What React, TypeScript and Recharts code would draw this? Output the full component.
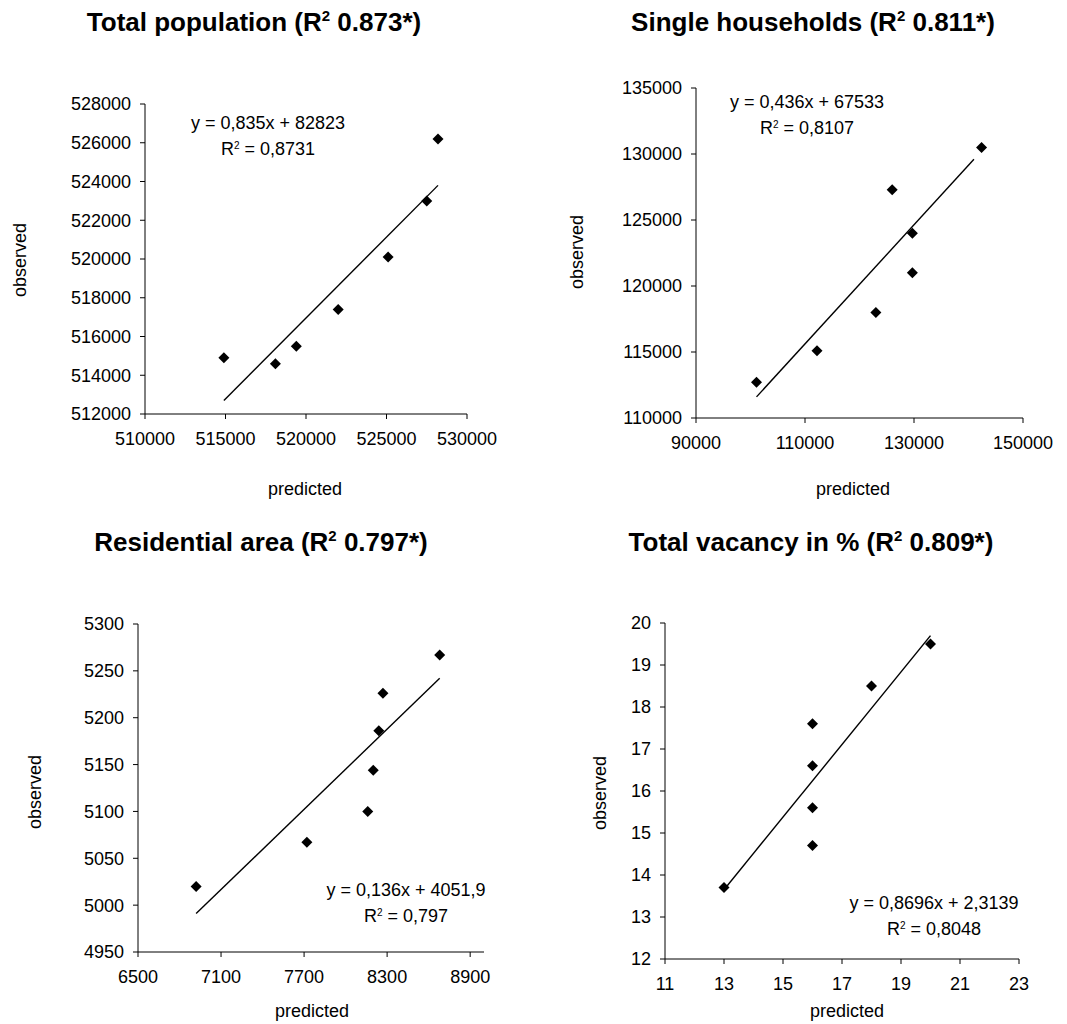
import React from "react";
import { ScatterChart, Scatter, XAxis, YAxis } from "recharts";

const FONT = "'Liberation Sans', Arial, Helvetica, sans-serif";

// Total population
const popPredicted = [514900, 518100, 519400, 522000, 525100, 527500, 528200];
const popObserved = [514900, 514600, 515500, 517400, 520100, 523000, 526200];
const popTrendX = [514900, 528200];
const popTrendY = [512700, 523800];
const popXTicks = [510000, 515000, 520000, 525000, 530000];
const popYTicks = [512000, 514000, 516000, 518000, 520000, 522000, 524000, 526000, 528000];

// Single households
const hhPredicted = [101100, 112200, 123000, 126000, 129700, 129700, 142400];
const hhObserved = [112700, 115100, 118000, 127300, 124000, 121000, 130500];
const hhTrendX = [101100, 141000];
const hhTrendY = [111600, 129600];
const hhXTicks = [90000, 110000, 130000, 150000];
const hhYTicks = [110000, 115000, 120000, 125000, 130000, 135000];

// Residential area
const areaPredicted = [6920, 7720, 8160, 8200, 8240, 8270, 8680];
const areaObserved = [5020, 5067, 5100, 5144, 5186, 5226, 5267];
const areaTrendX = [6920, 8680];
const areaTrendY = [4991, 5242];
const areaXTicks = [6500, 7100, 7700, 8300, 8900];
const areaYTicks = [4950, 5000, 5050, 5100, 5150, 5200, 5250, 5300];

// Total vacancy in %
const vacPredicted = [13, 16, 16, 16, 16, 18, 20];
const vacObserved = [13.7, 17.6, 16.6, 15.6, 14.7, 18.5, 19.5];
const vacTrendX = [13, 20];
const vacTrendY = [13.65, 19.7];
const vacXTicks = [11, 13, 15, 17, 19, 21, 23];
const vacYTicks = [12, 13, 14, 15, 16, 17, 18, 19, 20];

const Diamond = (props: any) => {
  const { cx, cy } = props;
  if (cx == null || cy == null) return <g />;
  const r = 5.5;
  return <path d={`M${cx},${cy - r}L${cx + r},${cy}L${cx},${cy + r}L${cx - r},${cy}Z`} fill="#000" />;
};

const tickStyle = { fill: "#000", fontSize: 18, fontFamily: FONT };

function Panel(p: any) {
  const W = 533;
  const H = 512;
  const xh = 40;
  const pts = p.predicted.map((x: number, i: number) => ({ x, y: p.observed[i] }));
  const trend = p.trendX.map((x: number, i: number) => ({ x, y: p.trendY[i] }));
  return (
    <div style={{ position: "absolute", left: p.left, top: p.top, width: W, height: H }}>
      <ScatterChart
        width={W}
        height={H}
        margin={{ top: p.plot.t - p.top, right: p.left + W - p.plot.r, bottom: p.top + H - p.plot.b - xh, left: 0 }}
      >
        <XAxis
          type="number"
          dataKey="x"
          domain={p.xDomain}
          ticks={p.xTicks}
          interval={0}
          height={xh}
          tickSize={5}
          tickMargin={13}
          axisLine={{ stroke: "#000" }}
          tickLine={{ stroke: "#000" }}
          tick={tickStyle}
          allowDataOverflow
        />
        <YAxis
          type="number"
          dataKey="y"
          domain={p.yDomain}
          ticks={p.yTicks}
          interval={0}
          width={p.plot.l - p.left}
          tickSize={5}
          tickMargin={9}
          axisLine={{ stroke: "#000" }}
          tickLine={{ stroke: "#000" }}
          tick={tickStyle}
          allowDataOverflow
        />
        <Scatter
          data={trend}
          line={{ stroke: "#000", strokeWidth: 1.4 }}
          lineType="joint"
          shape={() => <g />}
          isAnimationActive={false}
        />
        <Scatter data={pts} shape={Diamond} isAnimationActive={false} />
      </ScatterChart>
    </div>
  );
}

const Sup = ({ size, raise }: { size: number; raise: number }) => (
  <span style={{ fontSize: size, position: "relative", top: -raise, lineHeight: 0 }}>2</span>
);

function Title({ x, y, before, after }: any) {
  return (
    <div
      style={{
        position: "absolute",
        left: x,
        top: y,
        transform: "translate(-50%, -50%)",
        fontFamily: FONT,
        fontWeight: "bold",
        fontSize: 26,
        lineHeight: 1,
        whiteSpace: "nowrap",
      }}
    >
      {before}
      <Sup size={15} raise={10} />
      {after}
    </div>
  );
}

function Eq({ x, y, eq, r2 }: any) {
  const base: any = {
    position: "absolute",
    left: x,
    transform: "translate(-50%, -50%)",
    fontFamily: FONT,
    fontSize: 18,
    lineHeight: 1,
    whiteSpace: "nowrap",
  };
  return (
    <>
      <div style={{ ...base, top: y }}>{eq}</div>
      <div style={{ ...base, top: y + 26 }}>
        R<Sup size={10} raise={6} /> = {r2}
      </div>
    </>
  );
}

function AxisText({ x, y, text, rotate }: any) {
  return (
    <div
      style={{
        position: "absolute",
        left: x,
        top: y,
        transform: `translate(-50%, -50%)${rotate ? " rotate(-90deg)" : ""}`,
        fontFamily: FONT,
        fontSize: 18,
        lineHeight: 1,
        whiteSpace: "nowrap",
      }}
    >
      {text}
    </div>
  );
}

export default function App() {
  return (
    <div style={{ position: "absolute", left: 0, top: 0, width: 1067, height: 1024, background: "#fff", overflow: "hidden" }}>
      <Panel
        left={0}
        top={0}
        plot={{ l: 145, t: 104, r: 467, b: 414 }}
        predicted={popPredicted}
        observed={popObserved}
        trendX={popTrendX}
        trendY={popTrendY}
        xTicks={popXTicks}
        yTicks={popYTicks}
        xDomain={[510000, 530000]}
        yDomain={[512000, 528000]}
      />
      <Panel
        left={533}
        top={0}
        plot={{ l: 696, t: 88, r: 1023, b: 418 }}
        predicted={hhPredicted}
        observed={hhObserved}
        trendX={hhTrendX}
        trendY={hhTrendY}
        xTicks={hhXTicks}
        yTicks={hhYTicks}
        xDomain={[90000, 150000]}
        yDomain={[110000, 135000]}
      />
      <Panel
        left={0}
        top={512}
        plot={{ l: 138, t: 624, r: 484, b: 952 }}
        predicted={areaPredicted}
        observed={areaObserved}
        trendX={areaTrendX}
        trendY={areaTrendY}
        xTicks={areaXTicks}
        yTicks={areaYTicks}
        xDomain={[6500, 9000]}
        yDomain={[4950, 5300]}
      />
      <Panel
        left={533}
        top={512}
        plot={{ l: 665, t: 623, r: 1019, b: 959 }}
        predicted={vacPredicted}
        observed={vacObserved}
        trendX={vacTrendX}
        trendY={vacTrendY}
        xTicks={vacXTicks}
        yTicks={vacYTicks}
        xDomain={[11, 23]}
        yDomain={[12, 20]}
      />

      <Title x={254} y={22} before="Total population (R" after=" 0.873*)" />
      <Title x={813} y={22} before="Single households (R" after=" 0.811*)" />
      <Title x={261} y={542} before="Residential area (R" after=" 0.797*)" />
      <Title x={811} y={542} before="Total vacancy in % (R" after=" 0.809*)" />

      <Eq x={268} y={123} eq="y = 0,835x + 82823" r2="0,8731" />
      <Eq x={807} y={102} eq="y = 0,436x + 67533" r2="0,8107" />
      <Eq x={406} y={890} eq="y = 0,136x + 4051,9" r2="0,797" />
      <Eq x={934} y={903} eq="y = 0,8696x + 2,3139" r2="0,8048" />

      <AxisText x={20} y={260} text="observed" rotate />
      <AxisText x={305} y={489} text="predicted" />
      <AxisText x={577} y={252} text="observed" rotate />
      <AxisText x={853} y={489} text="predicted" />
      <AxisText x={35} y={792} text="observed" rotate />
      <AxisText x={312} y={1011} text="predicted" />
      <AxisText x={600} y={793} text="observed" rotate />
      <AxisText x={847} y={1011} text="predicted" />
    </div>
  );
}
